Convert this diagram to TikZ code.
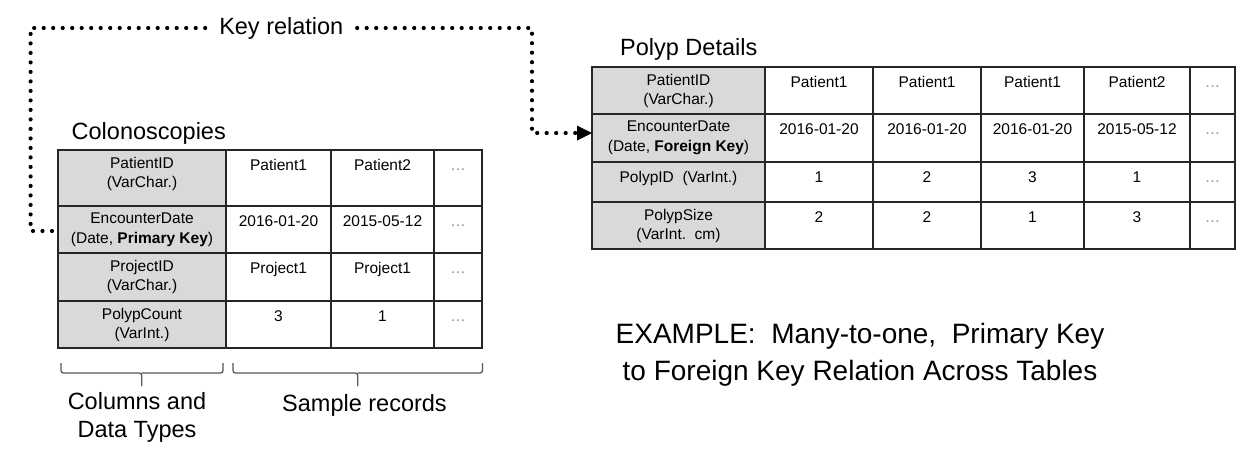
\documentclass[tikz,border=0pt]{standalone}
\usepackage{fontspec}
\setmainfont{Liberation Sans}
\usepackage{xcolor}
\usetikzlibrary{arrows.meta,positioning}

\begin{document}
\begin{tikzpicture}[x=1pt,y=-1pt,
  hdr/.style={draw=black!85,line width=1.1pt,fill=black!15,anchor=north west,inner sep=0pt,
              outer sep=0pt,minimum width=#1},
  grid/.style={draw=black!85,line width=1.1pt},
  txt/.style={align=center,inner sep=0pt,anchor=north,font=\fontsize{15.5}{19.5}\selectfont,
              execute at begin node=\strut},
  more/.style={txt,text=black!45},
  title/.style={inner sep=0pt,font=\fontsize{23.5}{28.3}\selectfont},
  lbl/.style={title,align=center,anchor=north,execute at begin node=\strut},
  note/.style={inner sep=0pt,align=center,anchor=north,font=\fontsize{28}{37.4}\selectfont,
               execute at begin node=\strut},
  brc/.style={draw=black!65,line width=1.3pt,rounded corners=2.5pt},
  keyrel/.style={line width=4.2pt,line cap=round,dash pattern=on 0pt off 9.5pt}]
  \path[use as bounding box,fill=white] (0,0) rectangle (1247,472);

  % Colonoscopies table
  \node[title,anchor=base west] (tCol) at (71.5,139.3) {Colonoscopies};
  \node[hdr=168pt,minimum height=56pt] (cPat) at (58,150) {};
  \node[hdr=168pt,minimum height=47pt] (cEnc) at (58,206) {};
  \node[hdr=168pt,minimum height=48pt] (cPrj) at (58,253) {};
  \node[hdr=168pt,minimum height=47pt] (cCnt) at (58,301) {};
  \draw[grid] (226,150) rectangle (482,348) (226,206) -- (482,206) (226,253) -- (482,253)
    (226,301) -- (482,301) (331,150) -- (331,348) (434,150) -- (434,348);
  \node[txt,below=7pt of cPat.north] (lPat) {PatientID\\(VarChar.)};
  \node[txt,below=7pt of cEnc.north] (lEnc) {EncounterDate\\(Date, \textbf{Primary Key})};
  \node[txt,below=7pt of cPrj.north] (lPrj) {ProjectID\\(VarChar.)};
  \node[txt,below=7pt of cCnt.north] (lCnt) {PolypCount\\(VarInt.)};
  \node[txt] (a11) at (278.5,157) {Patient1};
  \node[txt] (a12) at (382.5,157) {Patient2};
  \node[more] (a13) at (458,157) {…};
  \node[txt] (a21) at (278.5,213) {2016-01-20};
  \node[txt] (a22) at (382.5,213) {2015-05-12};
  \node[more] (a23) at (458,213) {…};
  \node[txt] (a31) at (278.5,260) {Project1};
  \node[txt] (a32) at (382.5,260) {Project1};
  \node[more] (a33) at (458,260) {…};
  \node[txt] (a41) at (278.5,308) {3};
  \node[txt] (a42) at (382.5,308) {1};
  \node[more] (a43) at (458,308) {…};

  % Polyp Details table
  \node[title,anchor=base west] (tPol) at (620,55.5) {Polyp Details};
  \node[hdr=173pt,minimum height=47pt] (pPat) at (592,67) {};
  \node[hdr=173pt,minimum height=48pt] (pEnc) at (592,114) {};
  \node[hdr=173pt,minimum height=40pt] (pPid) at (592,162) {};
  \node[hdr=173pt,minimum height=47pt] (pSiz) at (592,202) {};
  \draw[grid] (765,67) rectangle (1235,249) (765,114) -- (1235,114) (765,162) -- (1235,162)
    (765,202) -- (1235,202) (873,67) -- (873,249) (981,67) -- (981,249) (1084,67) -- (1084,249)
    (1190,67) -- (1190,249);
  \node[txt,below=7pt of pPat.north] (mPat) {PatientID\\(VarChar.)};
  \node[txt,below=7pt of pEnc.north] (mEnc) {EncounterDate\\(Date, \textbf{Foreign Key})};
  \node[txt,below=7pt of pPid.north] (mPid) {PolypID\ \ (VarInt.)};
  \node[txt,below=7pt of pSiz.north] (mSiz) {PolypSize\\(VarInt.\ \ cm)};
  \node[txt] (b11) at (819,74) {Patient1};
  \node[txt] (b12) at (927,74) {Patient1};
  \node[txt] (b13) at (1032.5,74) {Patient1};
  \node[txt] (b14) at (1137,74) {Patient2};
  \node[more] (b15) at (1212.5,74) {…};
  \node[txt] (b21) at (819,121) {2016-01-20};
  \node[txt] (b22) at (927,121) {2016-01-20};
  \node[txt] (b23) at (1032.5,121) {2016-01-20};
  \node[txt] (b24) at (1137,121) {2015-05-12};
  \node[more] (b25) at (1212.5,121) {…};
  \node[txt] (b31) at (819,169) {1};
  \node[txt] (b32) at (927,169) {2};
  \node[txt] (b33) at (1032.5,169) {3};
  \node[txt] (b34) at (1137,169) {1};
  \node[more] (b35) at (1212.5,169) {…};
  \node[txt] (b41) at (819,209) {2};
  \node[txt] (b42) at (927,209) {2};
  \node[txt] (b43) at (1032.5,209) {1};
  \node[txt] (b44) at (1137,209) {3};
  \node[more] (b45) at (1212.5,209) {…};

  % key relation
  \draw[keyrel,-{Triangle[length=15pt,width=15pt,line width=0pt]}]
    ([xshift=-6pt,yshift=-1.5pt]cEnc.west) -| (30.6,28)
    -- node[title,fill=white,inner xsep=10pt,inner ysep=2pt] (kRel) {Key relation} (532,28)
    |- ([yshift=5pt]pEnc.west);

  % braces below the first table
  \draw[brc] (61,363) |- (141.7,373) -- (141.7,386) (223,363) |- (141.7,373);
  \draw[brc] (233,363) |- (357.7,373) -- (357.7,386) (482.5,363) |- (357.7,373);
  \node[lbl] (bCol) at (137,391.9) {Columns and\\Data Types};
  \node[lbl] (bRec) at (364.5,391.9) {Sample records};

  \node[note] (nEx) at (860,323.1) {EXAMPLE:\ \ Many-to-one,\ \ Primary Key\\to Foreign Key Relation Across Tables};
\end{tikzpicture}
\end{document}
